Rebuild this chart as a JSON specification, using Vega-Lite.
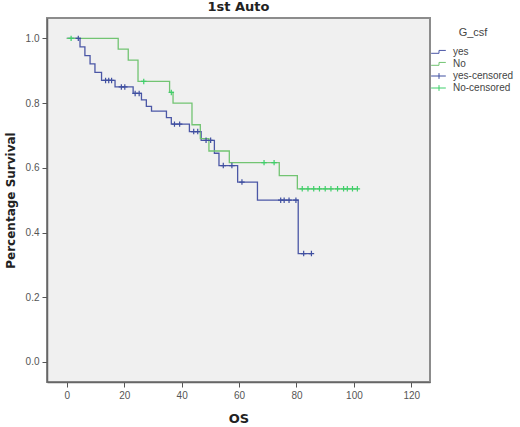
{
  "$schema": "https://vega.github.io/schema/vega-lite/v6.json",
  "width": 383,
  "height": 364,
  "autosize": "none",
  "padding": {"left": 47, "top": 18, "right": 90, "bottom": 45},
  "background": "white",
  "title": {"text": "1st Auto", "fontSize": 13, "fontWeight": "bold", "font": "DejaVu Sans", "color": "#222", "anchor": "middle", "offset": 4},
  "config": {
    "view": {"fill": "#f0f0f0", "stroke": "#8c8c8c", "strokeWidth": 2},
    "axis": {"grid": false, "labelFont": "Liberation Sans", "labelFontSize": 10, "labelColor": "#555", "tickColor": "#555", "tickSize": 5, "domainColor": "#666", "domainWidth": 1.5, "titleFont": "DejaVu Sans", "titleFontWeight": "bold", "titleColor": "#222"}
  },
  "datasets": {
    "km": [
      {"grp": "yes", "t": 0, "s": 1.0},
      {"grp": "yes", "t": 4.0, "s": 1.0},
      {"grp": "yes", "t": 4.6, "s": 0.974},
      {"grp": "yes", "t": 6.3, "s": 0.947},
      {"grp": "yes", "t": 8.1, "s": 0.921},
      {"grp": "yes", "t": 9.8, "s": 0.895},
      {"grp": "yes", "t": 12.1, "s": 0.87},
      {"grp": "yes", "t": 13.5, "s": 0.87},
      {"grp": "yes", "t": 14.6, "s": 0.87},
      {"grp": "yes", "t": 15.6, "s": 0.87},
      {"grp": "yes", "t": 16.8, "s": 0.85},
      {"grp": "yes", "t": 19.0, "s": 0.85},
      {"grp": "yes", "t": 20.2, "s": 0.85},
      {"grp": "yes", "t": 23.1, "s": 0.83},
      {"grp": "yes", "t": 23.8, "s": 0.83},
      {"grp": "yes", "t": 25.2, "s": 0.83},
      {"grp": "yes", "t": 26.0, "s": 0.81},
      {"grp": "yes", "t": 27.7, "s": 0.79},
      {"grp": "yes", "t": 29.5, "s": 0.775},
      {"grp": "yes", "t": 34.7, "s": 0.755},
      {"grp": "yes", "t": 36.4, "s": 0.735},
      {"grp": "yes", "t": 37.5, "s": 0.735},
      {"grp": "yes", "t": 39.3, "s": 0.735},
      {"grp": "yes", "t": 42.7, "s": 0.712},
      {"grp": "yes", "t": 44.2, "s": 0.712},
      {"grp": "yes", "t": 45.6, "s": 0.712},
      {"grp": "yes", "t": 46.8, "s": 0.685},
      {"grp": "yes", "t": 48.5, "s": 0.685},
      {"grp": "yes", "t": 50.1, "s": 0.685},
      {"grp": "yes", "t": 51.4, "s": 0.645},
      {"grp": "yes", "t": 53.0, "s": 0.607},
      {"grp": "yes", "t": 54.5, "s": 0.607},
      {"grp": "yes", "t": 57.5, "s": 0.607},
      {"grp": "yes", "t": 59.5, "s": 0.556},
      {"grp": "yes", "t": 61.0, "s": 0.556},
      {"grp": "yes", "t": 66.4, "s": 0.5},
      {"grp": "yes", "t": 74.5, "s": 0.5},
      {"grp": "yes", "t": 75.7, "s": 0.5},
      {"grp": "yes", "t": 77.4, "s": 0.5},
      {"grp": "yes", "t": 79.8, "s": 0.5},
      {"grp": "yes", "t": 80.6, "s": 0.335},
      {"grp": "yes", "t": 82.5, "s": 0.335},
      {"grp": "yes", "t": 85.2, "s": 0.335},
      {"grp": "No", "t": 0, "s": 1.0},
      {"grp": "No", "t": 1.5, "s": 1.0},
      {"grp": "No", "t": 17.9, "s": 0.967},
      {"grp": "No", "t": 21.4, "s": 0.933},
      {"grp": "No", "t": 24.8, "s": 0.867},
      {"grp": "No", "t": 26.8, "s": 0.867},
      {"grp": "No", "t": 35.8, "s": 0.833},
      {"grp": "No", "t": 36.4, "s": 0.833},
      {"grp": "No", "t": 37.0, "s": 0.8},
      {"grp": "No", "t": 43.6, "s": 0.733},
      {"grp": "No", "t": 46.5, "s": 0.69},
      {"grp": "No", "t": 49.5, "s": 0.652},
      {"grp": "No", "t": 56.6, "s": 0.616},
      {"grp": "No", "t": 68.7, "s": 0.616},
      {"grp": "No", "t": 72.2, "s": 0.616},
      {"grp": "No", "t": 74.0, "s": 0.576},
      {"grp": "No", "t": 80.3, "s": 0.535},
      {"grp": "No", "t": 82.0, "s": 0.535},
      {"grp": "No", "t": 84.0, "s": 0.535},
      {"grp": "No", "t": 86.0, "s": 0.535},
      {"grp": "No", "t": 88.0, "s": 0.535},
      {"grp": "No", "t": 90.0, "s": 0.535},
      {"grp": "No", "t": 92.0, "s": 0.535},
      {"grp": "No", "t": 94.3, "s": 0.535},
      {"grp": "No", "t": 96.4, "s": 0.535},
      {"grp": "No", "t": 97.7, "s": 0.535},
      {"grp": "No", "t": 99.5, "s": 0.535},
      {"grp": "No", "t": 101.2, "s": 0.535}
    ],
    "cens": [
      {"lab": "yes-censored", "t": 4.0, "s": 1.0},
      {"lab": "yes-censored", "t": 13.5, "s": 0.87},
      {"lab": "yes-censored", "t": 14.6, "s": 0.87},
      {"lab": "yes-censored", "t": 15.6, "s": 0.87},
      {"lab": "yes-censored", "t": 19.0, "s": 0.85},
      {"lab": "yes-censored", "t": 20.2, "s": 0.85},
      {"lab": "yes-censored", "t": 23.8, "s": 0.83},
      {"lab": "yes-censored", "t": 25.2, "s": 0.83},
      {"lab": "yes-censored", "t": 37.5, "s": 0.735},
      {"lab": "yes-censored", "t": 39.3, "s": 0.735},
      {"lab": "yes-censored", "t": 44.2, "s": 0.712},
      {"lab": "yes-censored", "t": 45.6, "s": 0.712},
      {"lab": "yes-censored", "t": 48.5, "s": 0.685},
      {"lab": "yes-censored", "t": 50.1, "s": 0.685},
      {"lab": "yes-censored", "t": 54.5, "s": 0.607},
      {"lab": "yes-censored", "t": 57.5, "s": 0.607},
      {"lab": "yes-censored", "t": 61.0, "s": 0.556},
      {"lab": "yes-censored", "t": 74.5, "s": 0.5},
      {"lab": "yes-censored", "t": 75.7, "s": 0.5},
      {"lab": "yes-censored", "t": 77.4, "s": 0.5},
      {"lab": "yes-censored", "t": 79.8, "s": 0.5},
      {"lab": "yes-censored", "t": 82.5, "s": 0.335},
      {"lab": "yes-censored", "t": 85.2, "s": 0.335},
      {"lab": "No-censored", "t": 1.5, "s": 1.0},
      {"lab": "No-censored", "t": 26.8, "s": 0.867},
      {"lab": "No-censored", "t": 36.4, "s": 0.833},
      {"lab": "No-censored", "t": 68.7, "s": 0.616},
      {"lab": "No-censored", "t": 72.2, "s": 0.616},
      {"lab": "No-censored", "t": 82.0, "s": 0.535},
      {"lab": "No-censored", "t": 84.0, "s": 0.535},
      {"lab": "No-censored", "t": 86.0, "s": 0.535},
      {"lab": "No-censored", "t": 88.0, "s": 0.535},
      {"lab": "No-censored", "t": 90.0, "s": 0.535},
      {"lab": "No-censored", "t": 92.0, "s": 0.535},
      {"lab": "No-censored", "t": 94.3, "s": 0.535},
      {"lab": "No-censored", "t": 96.4, "s": 0.535},
      {"lab": "No-censored", "t": 97.7, "s": 0.535},
      {"lab": "No-censored", "t": 99.5, "s": 0.535},
      {"lab": "No-censored", "t": 101.2, "s": 0.535}
    ]
  },
  "layer": [
    {
      "data": {"name": "km"},
      "mark": {"type": "line", "interpolate": "step-after", "strokeWidth": 1.3, "clip": true},
      "encoding": {
        "x": {"field": "t", "type": "quantitative", "scale": {"domain": [-6.9, 126.5], "nice": false, "zero": false},
          "axis": {"values": [0, 20, 40, 60, 80, 100, 120], "title": "OS", "titleFontSize": 13, "titlePadding": 12, "labelPadding": 3}},
        "y": {"field": "s", "type": "quantitative", "scale": {"domain": [-0.062, 1.063], "nice": false, "zero": false},
          "axis": {"values": [0, 0.2, 0.4, 0.6, 0.8, 1.0], "format": ".1f", "title": "Percentage Survival", "titleFontSize": 12, "titlePadding": 8, "labelPadding": 3}},
        "color": {"field": "grp", "type": "nominal",
          "scale": {"domain": ["yes", "No", "yes-censored", "No-censored"], "range": ["#4b57a6", "#72c472", "#3f4fa0", "#3fcf6a"]},
          "legend": {
            "title": "G_csf", "orient": "none", "legendX": 386, "legendY": 9,
            "titleFont": "Liberation Sans", "titleFontSize": 11, "titleFontWeight": "normal", "titleColor": "#444", "titlePadding": 8, "titleAnchor": "middle",
            "labelFont": "Liberation Sans", "labelFontSize": 10, "labelColor": "#444", "labelOffset": 8,
            "symbolSize": 110, "symbolStrokeWidth": 1, "rowPadding": 1, "padding": 0,
            "encode": {"symbols": {"update": {
              "shape": {"signal": "datum.value === 'yes' || datum.value === 'No' ? 'M-1.5,0.25H0V-0.3H1.3' : 'M-1.5,0H1.3M0,-0.55V0.55'"},
              "fill": {"value": "transparent"},
              "stroke": {"scale": "color", "field": "value"},
              "strokeWidth": {"value": 1}
            }}}
          }}
      }
    },
    {
      "data": {"name": "cens"},
      "mark": {"type": "point", "shape": "M-1,0H1M0,-1V1", "filled": false, "size": 30, "strokeWidth": 1.2, "opacity": 1},
      "encoding": {
        "x": {"field": "t", "type": "quantitative"},
        "y": {"field": "s", "type": "quantitative"},
        "color": {"field": "lab", "type": "nominal"}
      }
    }
  ]
}
